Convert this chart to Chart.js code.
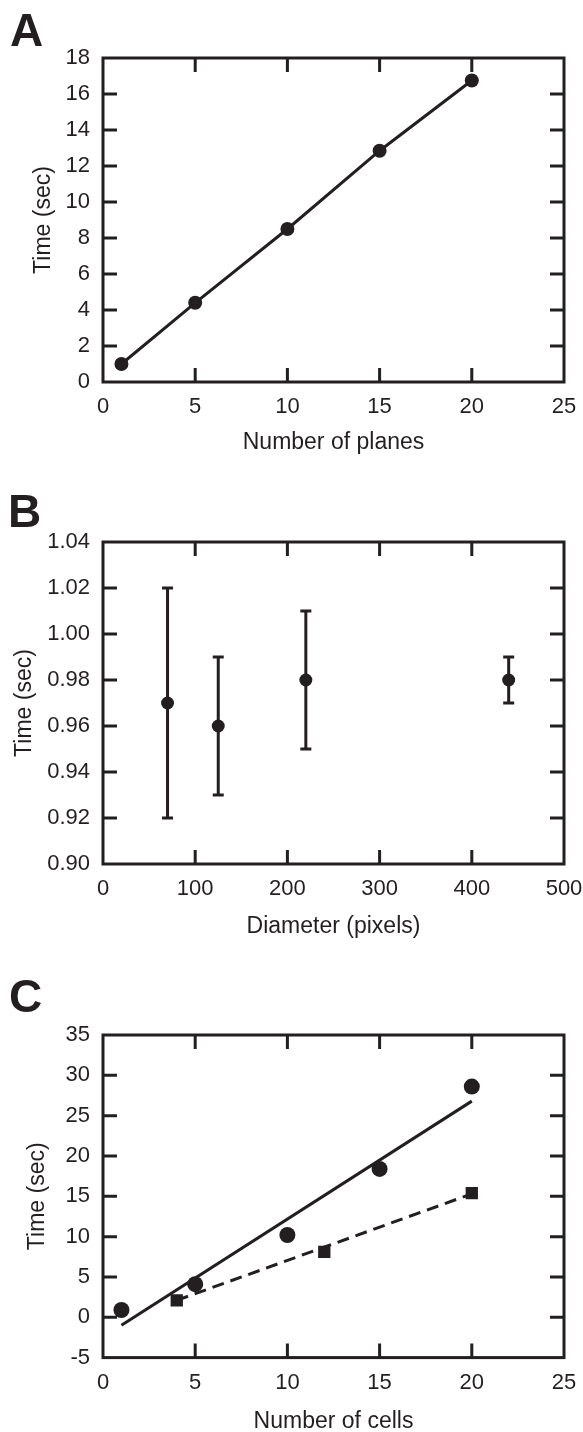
<!DOCTYPE html>
<html>
<head>
<meta charset="utf-8">
<script src="https://cdn.jsdelivr.net/npm/chart.js@4.4.0/dist/chart.umd.min.js"></script>
<style>
  html, body { margin:0; padding:0; background:#fff; width:583px; height:1432px; overflow:hidden; }
  .panel { position:absolute; left:0; width:583px; }
</style>
</head>
<body>
<div class="panel" style="top:0"><canvas id="chartA" width="583" height="470"></canvas></div>
<div class="panel" style="top:470px"><canvas id="chartB" width="583" height="480"></canvas></div>
<div class="panel" style="top:950px"><canvas id="chartC" width="583" height="500"></canvas></div>

<script>
/* =========================
   DATOS
=========================*/
// A - tiempo vs numero de planos
const planos = [1, 5, 10, 15, 20];
const tiempoPlanos = [1.0, 4.4, 8.5, 12.85, 16.75];

// B - tiempo vs diametro, con barras de error
const diametros = [70, 125, 220, 440];
const tiempoDiam = [0.97, 0.96, 0.98, 0.98];
const errorBajo = [0.92, 0.93, 0.95, 0.97];
const errorAlto = [1.02, 0.99, 1.01, 0.99];

// C - tiempo vs numero de celulas
const celulasCirc = [1, 5, 10, 15, 20];
const tiempoCirc = [0.9, 4.1, 10.2, 18.4, 28.6];
const celulasCuad = [4, 12, 20];
const tiempoCuad = [2.1, 8.1, 15.4];
const ajusteCircX = [1, 20];
const ajusteCircY = [-1.0, 26.8];
const ajusteCuadX = [4, 20];
const ajusteCuadY = [2.1, 15.3];

const INK = "#231f20";
const TICK = 14;

Chart.defaults.font.family = "'Liberation Sans', Arial, sans-serif";
Chart.defaults.color = INK;
Chart.defaults.animation = false;


/* =========================
   PLUGINS
=========================*/
const marcoPlugin = {
  id: "marco",
  afterDatasetsDraw(chart, args, opts){
    const {ctx, chartArea:a, scales:{x, y}} = chart;

    ctx.save();
    ctx.strokeStyle = INK;
    ctx.lineWidth = 3;
    ctx.strokeRect(a.left, a.top, a.right - a.left, a.bottom - a.top);

    ctx.beginPath();
    x.ticks.forEach(t=>{
      const px = x.getPixelForValue(t.value);
      if(px <= a.left + 1 || px >= a.right - 1) return;
      ctx.moveTo(px, a.bottom); ctx.lineTo(px, a.bottom - TICK);
      ctx.moveTo(px, a.top); ctx.lineTo(px, a.top + TICK);
    });
    y.ticks.forEach(t=>{
      const py = y.getPixelForValue(t.value);
      if(py <= a.top + 1 || py >= a.bottom - 1) return;
      ctx.moveTo(a.left, py); ctx.lineTo(a.left + TICK, py);
      ctx.moveTo(a.right, py); ctx.lineTo(a.right - TICK, py);
    });
    ctx.stroke();

    // letra del panel
    ctx.fillStyle = INK;
    ctx.font = "bold 46px 'Liberation Sans', Arial, sans-serif";
    ctx.textBaseline = "alphabetic";
    ctx.fillText(opts.letra, opts.lx, opts.ly);
    ctx.restore();
  }
};

const errorPlugin = {
  id: "barrasError",
  beforeDatasetsDraw(chart, args, opts){
    if(!opts.bajo) return;
    const {ctx, scales:{x, y}} = chart;
    ctx.save();
    ctx.strokeStyle = INK;
    ctx.lineWidth = 3;
    ctx.beginPath();
    opts.xs.forEach((v, i)=>{
      const px = x.getPixelForValue(v);
      const p1 = y.getPixelForValue(opts.bajo[i]);
      const p2 = y.getPixelForValue(opts.alto[i]);
      ctx.moveTo(px, p1); ctx.lineTo(px, p2);
      ctx.moveTo(px - 5.5, p1); ctx.lineTo(px + 5.5, p1);
      ctx.moveTo(px - 5.5, p2); ctx.lineTo(px + 5.5, p2);
    });
    ctx.stroke();
    ctx.restore();
  }
};


/* =========================
   OPCIONES COMUNES
=========================*/
function ejes(cfg){
  const tickFont = {size:22};
  const titleFont = {size:23};
  return {
    x:{
      type:"linear", min:cfg.xmin, max:cfg.xmax,
      grid:{display:false, drawTicks:false}, border:{display:false},
      ticks:{stepSize:cfg.xstep, font:tickFont, padding:12, maxRotation:0},
      title:{display:true, text:cfg.xtitulo, font:titleFont, padding:{top:0, bottom:cfg.xpb}},
      afterFit: s => {
        s.height = cfg.altoX;
        // que la etiqueta del extremo no empuje el area del grafico
        s.paddingLeft = 0;
        s.paddingRight = 0;
      }
    },
    y:{
      type:"linear", min:cfg.ymin, max:cfg.ymax,
      grid:{display:false, drawTicks:false}, border:{display:false},
      ticks:{stepSize:cfg.ystep, font:tickFont, padding:13, callback:cfg.yfmt},
      title:{display:true, text:"Time (sec)", font:titleFont, padding:{top:cfg.ypt, bottom:0}},
      afterFit: s => {
        s.width = 103;
        s.paddingTop = 0;
        s.paddingBottom = 0;
      }
    }
  };
}

function puntos(xs, ys){
  return xs.map((v, i) => ({x:v, y:ys[i]}));
}


/* =========================
   GRAFICO A
=========================*/
function graficoA(){
  new Chart(document.getElementById("chartA"),{
    type:"scatter",
    data:{
      datasets:[{
        data:puntos(planos, tiempoPlanos),
        showLine:true,
        borderColor:INK, borderWidth:3,
        pointRadius:7, pointBackgroundColor:INK, pointBorderWidth:0
      }]
    },
    options:{
      responsive:false,
      layout:{padding:{top:58, right:19, left:0, bottom:0}},
      plugins:{
        legend:{display:false}, tooltip:{enabled:false},
        marco:{letra:"A", lx:10, ly:46}
      },
      scales:ejes({
        xmin:0, xmax:25, xstep:5, ymin:0, ymax:18, ystep:2,
        xtitulo:"Number of planes", xpb:14, ypt:30, altoX:470 - 382
      })
    },
    plugins:[marcoPlugin]
  });
}


/* =========================
   GRAFICO B
=========================*/
function graficoB(){
  new Chart(document.getElementById("chartB"),{
    type:"scatter",
    data:{
      datasets:[{
        data:puntos(diametros, tiempoDiam),
        pointRadius:6.5, pointBackgroundColor:INK, pointBorderWidth:0
      }]
    },
    options:{
      responsive:false,
      layout:{padding:{top:72, right:19, left:0, bottom:0}},
      plugins:{
        legend:{display:false}, tooltip:{enabled:false},
        marco:{letra:"B", lx:8, ly:57},
        barrasError:{xs:diametros, bajo:errorBajo, alto:errorAlto}
      },
      scales:ejes({
        xmin:0, xmax:500, xstep:100, ymin:0.9, ymax:1.04, ystep:0.02,
        yfmt: v => Number(v).toFixed(2),
        xtitulo:"Diameter (pixels)", xpb:10, ypt:11, altoX:480 - 394
      })
    },
    plugins:[marcoPlugin, errorPlugin]
  });
}


/* =========================
   GRAFICO C
=========================*/
function graficoC(){
  new Chart(document.getElementById("chartC"),{
    type:"scatter",
    data:{
      datasets:[
        {
          data:puntos(ajusteCircX, ajusteCircY),
          showLine:true, borderColor:INK, borderWidth:3, pointRadius:0
        },
        {
          data:puntos(ajusteCuadX, ajusteCuadY),
          showLine:true, borderColor:INK, borderWidth:3, borderDash:[12,7], pointRadius:0
        },
        {
          data:puntos(celulasCirc, tiempoCirc),
          pointRadius:8, pointBackgroundColor:INK, pointBorderWidth:0
        },
        {
          data:puntos(celulasCuad, tiempoCuad),
          pointStyle:"rect", pointRadius:8.7, pointBackgroundColor:INK, pointBorderWidth:0
        }
      ]
    },
    options:{
      responsive:false,
      layout:{padding:{top:85, right:19, left:0, bottom:0}},
      plugins:{
        legend:{display:false}, tooltip:{enabled:false},
        marco:{letra:"C", lx:9, ly:62}
      },
      scales:ejes({
        xmin:0, xmax:25, xstep:5, ymin:-5, ymax:35, ystep:5,
        xtitulo:"Number of cells", xpb:15, ypt:24, altoX:500 - 407.6
      })
    },
    plugins:[marcoPlugin]
  });
}

graficoA();
graficoB();
graficoC();
</script>
</body>
</html>
